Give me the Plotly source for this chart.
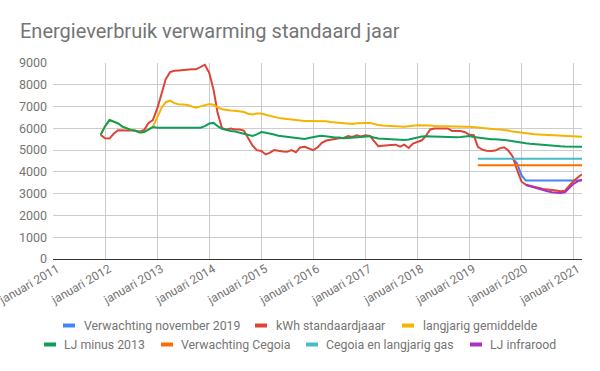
import pandas as pd
import plotly.graph_objects as go

# ---- data (monthly) ----
kwh_standaardjaar = [
    5700,
    5540, 5530, 5750, 5910, 5890, 5900, 5910, 5900, 5860, 5920, 6250, 6375,
    6900, 7600, 8250, 8580, 8640, 8660, 8680, 8710, 8710, 8710, 8820, 8920,
    8550, 7750, 6700, 6000, 5950, 5990, 5950, 5950, 5900, 5550, 5200, 5000,
    4960, 4800, 4870, 5000, 4960, 4940, 4920, 5000, 4900, 5125, 5150, 5080,
    5000, 5130, 5330, 5440, 5480, 5520, 5540, 5560, 5650, 5600, 5680, 5630,
    5680, 5650, 5400, 5180, 5200, 5230, 5230, 5250, 5160, 5250, 5100, 5300,
    5390, 5450, 5650, 5950, 5990, 5995, 5995, 5995, 5880, 5880, 5880, 5820,
    5700, 5680, 5150, 5020, 4970, 4960, 4980, 5080, 5130, 4980, 4700, 4100,
    3560, 3410, 3360, 3310, 3260, 3210, 3190, 3175, 3150, 3110, 3130, 3350,
    3580, 3750, 3890,
]
langjarig_gemiddelde = [
    5700,
    6100, 6380, 6300, 6230, 6080, 5990, 5930, 5890, 5810, 5830, 5950, 6060,
    6500, 6950, 7200, 7270, 7160, 7100, 7090, 7070, 7000, 6950, 7010, 7070,
    7120, 7080, 6960, 6880, 6833, 6820, 6805, 6780, 6750, 6670, 6640, 6680,
    6680, 6620, 6570, 6520, 6480, 6455, 6430, 6410, 6390, 6360, 6340, 6340,
    6343, 6343, 6343, 6320, 6290, 6270, 6250, 6240, 6200, 6200, 6230, 6250,
    6250, 6250, 6200, 6150, 6130, 6110, 6100, 6090, 6080, 6070, 6080, 6120,
    6146, 6146, 6146, 6130, 6110, 6100, 6090, 6080, 6070, 6065, 6060, 6070,
    6070, 6050, 6020, 6000, 5970, 5960, 5955, 5950, 5940, 5900, 5850, 5820,
    5790, 5770, 5750, 5730, 5720, 5710, 5700, 5690, 5670, 5650, 5640, 5630,
    5620, 5615, 5610,
]
lj_minus_2013 = [
    5700,
    6100, 6380, 6300, 6230, 6080, 5990, 5930, 5890, 5810, 5830, 5950, 6060,
    6030, 6030, 6030, 6030, 6030, 6030, 6030, 6030, 6030, 6030, 6030, 6100,
    6220, 6250, 6100, 5980, 5920, 5880, 5850, 5800, 5770, 5700, 5650, 5720,
    5830, 5800, 5770, 5720, 5660, 5630, 5610, 5570, 5540, 5520, 5510, 5560,
    5610, 5640, 5660, 5630, 5590, 5580, 5580, 5540, 5560, 5580, 5590, 5610,
    5630, 5640, 5580, 5530, 5520, 5510, 5500, 5480, 5460, 5470, 5490, 5540,
    5590, 5620, 5640, 5630, 5620, 5610, 5600, 5590, 5580, 5590, 5600, 5630,
    5650, 5600, 5570, 5550, 5510, 5500, 5495, 5490, 5470, 5440, 5400, 5380,
    5340, 5310, 5290, 5270, 5250, 5240, 5230, 5220, 5200, 5180, 5170, 5170,
    5170, 5160, 5150,
]
main_start = "2011-12-01"

verwachting_nov_2019 = [4600, 4400, 3850, 3600, 3600, 3600, 3600, 3600, 3600,
                        3600, 3600, 3600, 3600, 3600, 3600, 3600, 3600]
nov2019_start = "2019-11-01"

lj_infrarood = [3400, 3340, 3280, 3230, 3150, 3110, 3070, 3050, 3030, 3060,
                3250, 3450, 3580, 3640]
infrarood_start = "2020-02-01"

cegoia_dates = ["2019-03-01", "2021-03-01"]
verwachting_cegoia = [4300, 4300]
cegoia_langjarig_gas = [4600, 4600]

year_ticks = [f"{y}-01-01" for y in range(2011, 2022)]
year_labels = [f"januari {y}" for y in range(2011, 2022)]

title_text = "Energieverbruik verwarming standaard jaar"


def months(start, n):
    return pd.date_range(start, periods=n, freq="MS")


GRAY = "#757575"
FONT = "Roboto"
W, H = 600, 371
ML, MR, MT, MB = 53, 18, 63, 112
PW, PH = W - ML - MR, H - MT - MB

# (name, colour, x, y, swatch-left px, row-centre px, text-left px)
series = [
    ("Verwachting november 2019", "#4285F4", months(nov2019_start, len(verwachting_nov_2019)), verwachting_nov_2019, 63, 325.5, 82),
    ("kWh standaardjaaar", "#DB4437", months(main_start, len(kwh_standaardjaar)), kwh_standaardjaar, 255, 325.5, 274),
    ("langjarig gemiddelde", "#F4B400", months(main_start, len(langjarig_gemiddelde)), langjarig_gemiddelde, 402, 325.5, 421),
    ("LJ minus 2013", "#0F9D58", months(main_start, len(lj_minus_2013)), lj_minus_2013, 44, 344.5, 62),
    ("Verwachting Cegoia", "#FF6D01", cegoia_dates, verwachting_cegoia, 161, 344.5, 179),
    ("Cegoia en langjarig gas", "#46BDC6", cegoia_dates, cegoia_langjarig_gas, 306, 344.5, 324),
    ("LJ infrarood", "#AB30C4", months(infrarood_start, len(lj_infrarood)), lj_infrarood, 470, 344.5, 488),
]

fig = go.Figure()
shapes, annotations = [], []
for name, color, xs, ys, sw_x, row_y, tx in series:
    fig.add_trace(go.Scatter(x=xs, y=ys, name=name, mode="lines",
                             line=dict(color=color, width=2), showlegend=False))
    # legend entry: short thick swatch + label
    shapes.append(dict(type="rect", xref="paper", yref="paper",
                       x0=(sw_x - ML) / PW, x1=(sw_x + 12 - ML) / PW,
                       y0=(MT + PH - (row_y - 2)) / PH, y1=(MT + PH - (row_y + 2)) / PH,
                       fillcolor=color, line=dict(width=0)))
    annotations.append(dict(text=name, xref="paper", yref="paper",
                            x=(tx - ML) / PW, y=(MT + PH - row_y) / PH,
                            xanchor="left", yanchor="middle", showarrow=False,
                            font=dict(family=FONT, size=12.3, color=GRAY)))

fig.update_layout(
    width=W, height=H,
    margin=dict(l=ML, r=MR, t=MT, b=MB, autoexpand=False),
    paper_bgcolor="white", plot_bgcolor="white",
    font=dict(family=FONT, color=GRAY),
    title=dict(text=title_text, x=20 / W, xanchor="left", xref="container",
               y=1 - 31 / H, yanchor="middle", yref="container",
               font=dict(family=FONT, size=20, color=GRAY)),
    showlegend=False,
    shapes=shapes,
    annotations=annotations,
    xaxis=dict(range=["2010-12-31 12:00", "2021-03-01"], tickvals=year_ticks, ticktext=year_labels,
               tickangle=-30, showgrid=True, gridcolor="#cccccc", gridwidth=1,
               tickfont=dict(family=FONT, size=12, color=GRAY), showline=False,
               zeroline=False, ticks="", automargin=False, ticklabeloverflow="allow",
               ticklabelshift=4),
    yaxis=dict(range=[0, 9000], dtick=1000, tickformat="d", showgrid=True,
               gridcolor="#cccccc", gridwidth=1, zeroline=True, zerolinecolor="#333333",
               zerolinewidth=1, tickfont=dict(family=FONT, size=12.5, color=GRAY),
               ticks="", ticklabelstandoff=5, automargin=False),
)

fig.write_html("out.html", config={"displayModeBar": False},
               post_script="document.body.style.margin='0';")
